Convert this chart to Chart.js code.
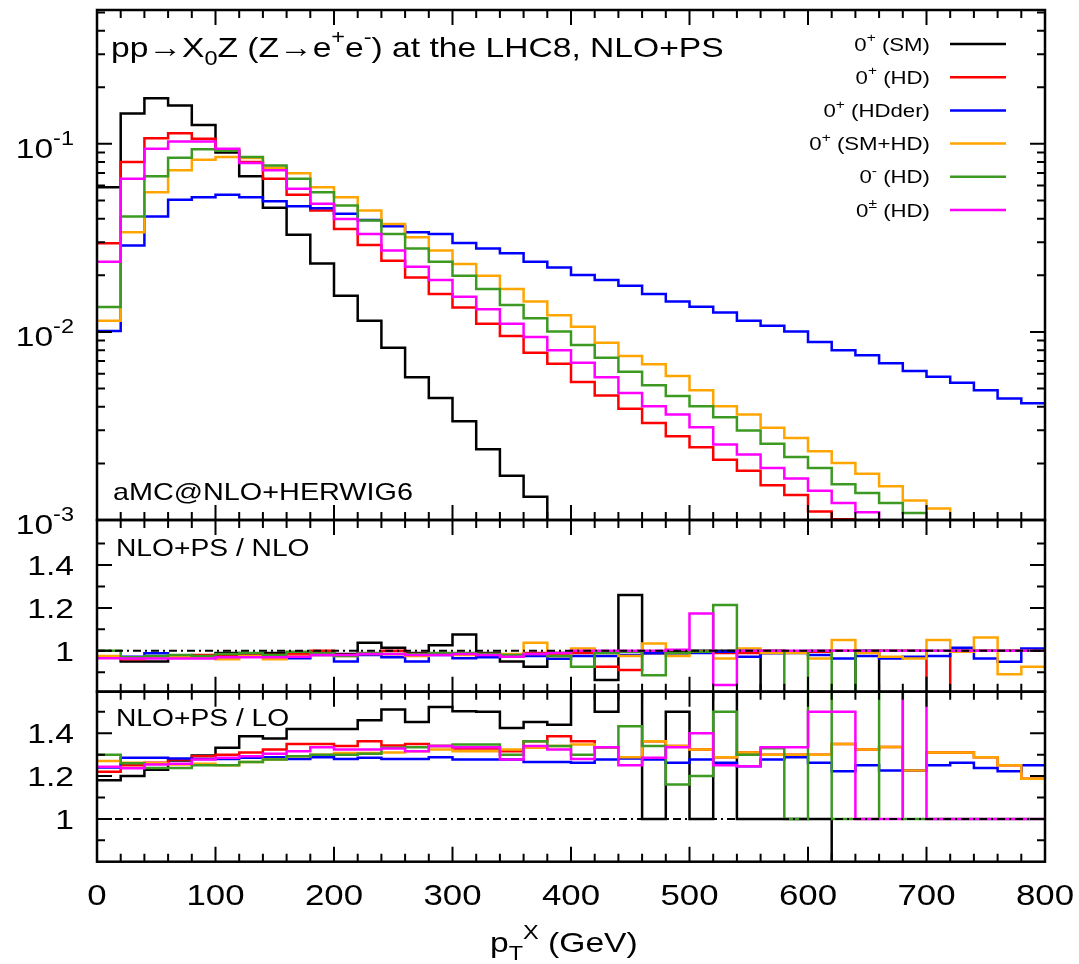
<!DOCTYPE html>
<html>
<head>
<meta charset="utf-8">
<script src="https://cdn.jsdelivr.net/npm/chart.js@4.4.1/dist/chart.umd.min.js"></script>
<style>
  body { margin: 0; background: #fff; }
  #wrap { position: relative; width: 1079px; height: 964px; }
  canvas { position: absolute; left: 0; top: 0; }
</style>
</head>
<body>
<div id="wrap">
  <canvas id="cMain" width="1079" height="964"></canvas>
  <canvas id="cNlo" width="1079" height="964"></canvas>
  <canvas id="cLo" width="1079" height="964"></canvas>
</div>
<script>
// bin low edges of pT^X (GeV), 20 GeV bins
const ptBins = [0, 20, 40, 60, 80, 100, 120, 140, 160, 180, 200, 220, 240, 260, 280, 300, 320, 340, 360, 380,
  400, 420, 440, 460, 480, 500, 520, 540, 560, 580, 600, 620, 640, 660, 680, 700, 720, 740, 760, 780];
const ptMax = 800;

const seriesLabels = ['0^{+} (SM)', '0^{+} (HD)', '0^{+} (HDder)', '0^{+} (SM+HD)', '0^{-} (HD)', '0^{±} (HD)'];
const seriesColors = ['#000000', '#ff0000', '#0000ff', '#ffa500', '#3c9a22', '#ff00ff'];

// main panel: normalised distribution (log)
const smMain = [0.0588, 0.145, 0.175, 0.160, 0.126, 0.090, 0.0673, 0.0457, 0.0329, 0.0231, 0.01556, 0.01146, 0.00825, 0.00575, 0.00445, 0.00335, 0.00238, 0.00172, 0.00133, 0.0008,
  0.0006, 0.0005, 0.0005, 0.0004, 0.0004, 0.0003, 0.0003, 0.0003, 0.0002, 0.0002, 0.0002, 0.0002, 0.0002, 0.0002, 0.0002, 0.0002, 0.0002, 0.0002, 0.0002, 0.0002];
const hdMain = [0.0296, 0.080, 0.107, 0.114, 0.1066, 0.093, 0.080, 0.0652, 0.0536, 0.0442, 0.0353, 0.0290, 0.0239, 0.0195, 0.0159, 0.0135, 0.01107, 0.00952, 0.00776, 0.00678,
  0.00541, 0.00459, 0.00390, 0.00328, 0.00279, 0.00244, 0.00209, 0.00183, 0.00153, 0.00136, 0.00111, 0.00101, 0.0008, 0.0007, 0.0006, 0.0005, 0.0005, 0.0004, 0.0004, 0.0003];
const hdderMain = [0.01012, 0.0288, 0.0411, 0.0504, 0.0520, 0.0536, 0.0520, 0.0496, 0.0466, 0.0455, 0.0425, 0.0394, 0.0365, 0.0339, 0.0332, 0.0297, 0.0278, 0.0262, 0.0236, 0.0220,
  0.0201, 0.0189, 0.0176, 0.0159, 0.0145, 0.0136, 0.01267, 0.01146, 0.01077, 0.01004, 0.00885, 0.00799, 0.00751, 0.00681, 0.00619, 0.00578, 0.00537, 0.00489, 0.00443, 0.00417];
const smhdMain = [0.01146, 0.0339, 0.0553, 0.0723, 0.0824, 0.0851, 0.0840, 0.0746, 0.0698, 0.0588, 0.0520, 0.0442, 0.0375, 0.0319, 0.0271, 0.0230, 0.0199, 0.0169, 0.0145, 0.01228,
  0.01067, 0.00877, 0.00745, 0.00673, 0.00583, 0.00489, 0.00403, 0.00364, 0.00309, 0.00273, 0.00232, 0.00201, 0.00176, 0.00151, 0.00127, 0.00115, 0.00099, 0.0006, 0.0005, 0.0004];
const psMain = [0.01358, 0.0411, 0.0673, 0.0844, 0.0935, 0.092, 0.0851, 0.0768, 0.0652, 0.0553, 0.0470, 0.0391, 0.0332, 0.0278, 0.0236, 0.0199, 0.0169, 0.0139, 0.01183, 0.01004,
  0.00853, 0.00730, 0.00614, 0.00521, 0.00456, 0.00403, 0.00352, 0.00299, 0.00254, 0.00216, 0.00189, 0.00155, 0.00139, 0.00123, 0.00109, 0.0008, 0.0006, 0.0005, 0.0004, 0.0003];
const mixMain = [0.0236, 0.0652, 0.0942, 0.103, 0.103, 0.0942, 0.079, 0.0723, 0.0577, 0.048, 0.0399, 0.0332, 0.0271, 0.0222, 0.0189, 0.0154, 0.0132, 0.01107, 0.0094, 0.00798,
  0.00686, 0.00575, 0.00474, 0.00403, 0.00364, 0.00311, 0.00252, 0.00223, 0.00189, 0.00166, 0.00143, 0.00123, 0.0011, 0.00099, 0.0006, 0.0005, 0.0004, 0.0004, 0.0003, 0.0003];

// middle panel: NLO+PS / NLO
const smNlo = [0.97, 0.95, 0.95, 0.975, 0.975, 0.99, 0.985, 0.99, 0.99, 0.99, 0.985, 1.037, 1.014, 0.99, 1.026, 1.076, 0.99, 0.95, 0.925, 0.99,
  0.995, 0.863, 1.26, 0.99, 0.995, 1.0, 1.0, 1.0, 0, 0, 0, 0, 1.0, 0, 0, 0, 0, 0, 0, 0];
const hdNlo = [0.97, 0.96, 0.97, 0.975, 0.98, 0.975, 0.98, 0.98, 0.985, 1.0, 0.98, 0.985, 1.0, 0.985, 0.985, 0.985, 0.975, 0.98, 0.99, 0.985,
  0.99, 0.925, 0.91, 0.99, 0.99, 0.995, 0.99, 0.99, 1.0, 0.995, 0.995, 1.0, 0.995, 1.0, 1.0, 0, 1.0, 1.0, 1.0, 1.0];
const hdderNlo = [0.97, 0.972, 0.988, 0.972, 0.97, 0.97, 0.975, 0.975, 0.965, 0.98, 0.95, 0.98, 0.97, 0.95, 0.98, 0.965, 0.97, 0.975, 0.975, 0.963,
  0.975, 0.975, 0.98, 0.988, 0.988, 0.99, 0.995, 0.972, 0.988, 0.99, 0.98, 0.964, 0.975, 0.964, 0.972, 0.975, 1.014, 0.964, 0.949, 1.01];
const smhdNlo = [0.975, 0.965, 0.97, 0.97, 0.97, 0.96, 0.975, 0.96, 0.975, 0.98, 0.975, 0.985, 0.985, 0.975, 0.985, 0.98, 0.985, 0.985, 1.037, 0.975,
  1.011, 0.99, 0.975, 1.034, 0.975, 0.995, 0.964, 1.011, 0.99, 0.99, 0.964, 1.05, 0.99, 0.972, 0.964, 1.05, 0.995, 1.062, 0.89, 0.925];
const psNlo = [1.0, 0.97, 0.975, 0.98, 0.975, 0.985, 0.99, 0.98, 0.995, 0.99, 0.975, 0.99, 0.985, 0.985, 0.99, 0.99, 0.985, 0.98, 0.985, 0.975,
  0.925, 0.99, 0.995, 0.886, 0.99, 0.995, 1.213, 1.0, 1.0, 0, 1.0, 0, 1.0, 1.0, 1.0, 1.0, 1.0, 1.0, 1.0, 1.0];
const mixNlo = [0.965, 0.964, 0.964, 0.964, 0.964, 0.97, 0.97, 0.97, 0.972, 0.98, 0.98, 0.985, 0.985, 0.98, 0.98, 0.985, 0.98, 0.972, 0.985, 0.99,
  1.0, 1.0, 1.0, 1.0, 1.005, 1.174, 0.84, 1.0, 1.0, 1.0, 1.0, 1.0, 1.0, 1.0, 1.0, 1.0, 1.0, 1.0, 1.0, 1.0];

// bottom panel: NLO+PS / LO
const smLo = [1.18, 1.2, 1.23, 1.273, 1.296, 1.332, 1.386, 1.375, 1.42, 1.42, 1.42, 1.461, 1.511, 1.453, 1.523, 1.503, 1.5, 1.425, 1.453, 1.44,
  2.0, 1.5, 2.0, 1.0, 1.5, 1.0, 2.0, 1.0, 1.0, 1.0, 1.0, 0, 0, 0, 0, 0, 0, 0, 0, 0];
const hdLo = [1.22, 1.25, 1.262, 1.277, 1.293, 1.30, 1.31, 1.324, 1.35, 1.35, 1.34, 1.363, 1.343, 1.35, 1.34, 1.329, 1.329, 1.316, 1.363, 1.386,
  1.363, 1.335, 1.288, 1.363, 1.34, 1.324, 1.288, 1.31, 1.30, 1.30, 1.30, 1.35, 1.324, 1.336, 1.226, 1.31, 1.31, 1.288, 1.25, 1.188];
const hdderLo = [1.24, 1.285, 1.285, 1.282, 1.28, 1.28, 1.285, 1.288, 1.28, 1.288, 1.28, 1.285, 1.28, 1.28, 1.288, 1.277, 1.277, 1.277, 1.266, 1.266,
  1.262, 1.277, 1.282, 1.277, 1.262, 1.277, 1.262, 1.246, 1.277, 1.288, 1.262, 1.223, 1.25, 1.226, 1.226, 1.25, 1.262, 1.238, 1.223, 1.25];
const smhdLo = [1.27, 1.262, 1.26, 1.254, 1.257, 1.25, 1.266, 1.277, 1.293, 1.30, 1.308, 1.308, 1.31, 1.316, 1.324, 1.316, 1.316, 1.324, 1.332, 1.34,
  1.347, 1.335, 1.288, 1.363, 1.34, 1.324, 1.288, 1.31, 1.30, 1.30, 1.30, 1.35, 1.324, 1.336, 1.226, 1.31, 1.31, 1.288, 1.25, 1.188];
const psLo = [1.30, 1.26, 1.238, 1.238, 1.25, 1.25, 1.266, 1.277, 1.293, 1.30, 1.30, 1.304, 1.332, 1.335, 1.34, 1.347, 1.347, 1.30, 1.363, 1.34,
  1.30, 1.335, 1.433, 1.34, 1.16, 1.2, 1.5, 1.30, 1.33, 1.0, 2.0, 1.0, 1.0, 2.0, 1.0, 1.0, 1.0, 1.0, 1.0, 1.0];
const mixLo = [1.244, 1.237, 1.254, 1.257, 1.277, 1.285, 1.293, 1.304, 1.316, 1.335, 1.324, 1.324, 1.329, 1.316, 1.34, 1.335, 1.335, 1.277, 1.34, 1.324,
  1.28, 1.335, 1.25, 1.285, 1.335, 1.4, 1.25, 1.246, 1.335, 1.335, 1.5, 1.5, 1.0, 1.0, 2.0, 1.0, 1.0, 1.0, 1.0, 1.0];

// tick labels
const xTickValues = [0, 100, 200, 300, 400, 500, 600, 700, 800];
const xTickLabels = ['0', '100', '200', '300', '400', '500', '600', '700', '800'];
const mainTickValues = [0.001, 0.01, 0.1];
const mainTickLabels = ['10^{-3}', '10^{-2}', '10^{-1}'];
const ratioTickValues = [1.0, 1.2, 1.4];
const ratioTickLabels = ['1', '1.2', '1.4'];

const FONT = '"Liberation Sans", Arial, Helvetica, sans-serif';
const SX = 1.2; // the original lettering is a little stretched sideways

function parseRich(str) {
  const parts = [];
  const re = /([\^_])\{([^}]*)\}|([^\^_]+)/g;
  let m;
  while ((m = re.exec(str))) {
    if (m[3]) parts.push({ t: m[3] });
    else parts.push({ t: m[2], sup: m[1] === '^', sub: m[1] === '_' });
  }
  return parts;
}

function drawRich(ctx, str, x, y, size, align) {
  const parts = parseRich(str);
  let w = 0;
  parts.forEach(p => {
    ctx.font = (p.sup || p.sub ? size * 0.7 : size) + 'px ' + FONT;
    w += ctx.measureText(p.t).width;
  });
  w *= SX;
  const x0 = align === 'right' ? x - w : align === 'center' ? x - w / 2 : x;
  ctx.save();
  ctx.translate(x0, y);
  ctx.scale(SX, 1);
  ctx.fillStyle = '#000';
  ctx.textBaseline = 'alphabetic';
  ctx.textAlign = 'left';
  let px = 0;
  parts.forEach(p => {
    ctx.font = (p.sup || p.sub ? size * 0.7 : size) + 'px ' + FONT;
    const dy = p.sup ? -size * 0.45 : p.sub ? size * 0.28 : 0;
    ctx.fillText(p.t, px, dy);
    px += ctx.measureText(p.t).width;
  });
  ctx.restore();
}

function logMinors(min, max) {
  const out = [];
  for (let d = min; d < max; d *= 10) {
    for (let k = 2; k <= 9; k++) if (k * d < max) out.push(k * d);
  }
  return out;
}

const framePlugin = {
  id: 'frame',
  afterDraw(chart, args, o) {
    const ctx = chart.ctx;
    const a = chart.chartArea;
    const xs = chart.scales.x, ys = chart.scales.y;
    ctx.save();
    ctx.strokeStyle = '#000';
    ctx.lineWidth = 2;
    ctx.beginPath();
    for (let v = 20; v < ptMax; v += 20) {
      const px = xs.getPixelForValue(v);
      const len = v % 100 === 0 ? 15 : 8;
      ctx.moveTo(px, a.bottom); ctx.lineTo(px, a.bottom - len);
      ctx.moveTo(px, a.top); ctx.lineTo(px, a.top + len);
    }
    const yTick = (v, len) => {
      const py = ys.getPixelForValue(v);
      if (py <= a.top + 1 || py >= a.bottom - 1) return;
      ctx.moveTo(a.left, py); ctx.lineTo(a.left + len, py);
      ctx.moveTo(a.right, py); ctx.lineTo(a.right - len, py);
    };
    o.yMajor.forEach(v => yTick(v, 15));
    o.yMinor.forEach(v => yTick(v, 8));
    ctx.stroke();
    ctx.lineWidth = 2.5;
    ctx.strokeRect(a.left, a.top, a.right - a.left, a.bottom - a.top);
    ctx.restore();

    o.yLabels.forEach((s, i) => {
      const py = ys.getPixelForValue(o.yMajor[i]);
      drawRich(ctx, s, 74, py + o.yLabelShift, 28, 'right');
    });
    if (o.xLabels) {
      xTickValues.forEach((v, i) => {
        drawRich(ctx, xTickLabels[i], xs.getPixelForValue(v), 905, 29, 'center');
      });
      drawRich(ctx, 'p_{T}^{X} (GeV)', 490, 952, 28, 'left');
    }
    (o.texts || []).forEach(t => drawRich(ctx, t.s, t.x, t.y, t.size, 'left'));
    if (o.legend) {
      chart.data.datasets.forEach((ds, i) => {
        if (!ds.label) return;
        const cy = 44 + i * 33.2;
        drawRich(ctx, ds.label, 930, cy + 6.5, 18.5, 'right');
        ctx.save();
        ctx.strokeStyle = ds.borderColor;
        ctx.lineWidth = 2.5;
        ctx.beginPath();
        ctx.moveTo(950, cy); ctx.lineTo(1006, cy);
        ctx.stroke();
        ctx.restore();
      });
    }
  }
};

function steps(vals) {
  const pts = ptBins.map((x, i) => ({ x: x, y: vals[i] }));
  pts.push({ x: ptMax, y: vals[vals.length - 1] });
  return pts;
}

function makeDatasets(list, withRef) {
  const sets = list.map((vals, i) => ({
    label: seriesLabels[i],
    data: steps(vals),
    borderColor: seriesColors[i],
    borderWidth: 2.5,
    stepped: 'before',
    pointRadius: 0,
    fill: false,
    order: 6 - i
  }));
  if (withRef) {
    sets.push({
      label: '',
      data: [{ x: 0, y: 1 }, { x: ptMax, y: 1 }],
      borderColor: '#000',
      borderWidth: 2,
      borderDash: [8, 4, 2, 4],
      pointRadius: 0,
      order: 0
    });
  }
  return sets;
}

function makeChart(id, top, bottom, yScale, datasets, frame) {
  return new Chart(document.getElementById(id), {
    type: 'line',
    data: { datasets: datasets },
    options: {
      responsive: false,
      animation: false,
      devicePixelRatio: 1,
      events: [],
      layout: { padding: { left: 97, right: 34, top: top, bottom: 964 - bottom } },
      scales: {
        x: { type: 'linear', min: 0, max: ptMax, display: false },
        y: Object.assign({ display: false }, yScale)
      },
      plugins: { legend: { display: false }, tooltip: { enabled: false }, frame: frame }
    },
    plugins: [framePlugin]
  });
}

makeChart('cMain', 10, 520, { type: 'logarithmic', min: 0.001, max: 0.515 },
  makeDatasets([smMain, hdMain, hdderMain, smhdMain, psMain, mixMain], false),
  {
    yMajor: mainTickValues, yMinor: logMinors(0.001, 0.515), yLabels: mainTickLabels, yLabelShift: 14,
    legend: true,
    texts: [
      { s: 'pp→X_{0}Z (Z→e^{+}e^{-}) at the LHC8, NLO+PS', x: 111, y: 57, size: 28 },
      { s: 'aMC@NLO+HERWIG6', x: 113, y: 500, size: 24 }
    ]
  });

const nloSets = makeDatasets([smNlo, hdNlo, hdderNlo, smhdNlo, psNlo, mixNlo], true);
nloSets.forEach(d => { d.label = ''; });
makeChart('cNlo', 520, 691.7, { type: 'linear', min: 0.809, max: 1.61 }, nloSets,
  {
    yMajor: ratioTickValues, yMinor: [0.9, 1.1, 1.3, 1.5], yLabels: ratioTickLabels, yLabelShift: 10,
    texts: [{ s: 'NLO+PS / NLO', x: 116, y: 556, size: 23.5 }]
  });

const loSets = makeDatasets([smLo, hdLo, hdderLo, smhdLo, psLo, mixLo], true);
loSets.forEach(d => { d.label = ''; });
makeChart('cLo', 691.7, 861.7, { type: 'linear', min: 0.80, max: 1.594 }, loSets,
  {
    yMajor: ratioTickValues, yMinor: [0.9, 1.1, 1.3, 1.5], yLabels: ratioTickLabels, yLabelShift: 10,
    xLabels: true,
    texts: [{ s: 'NLO+PS / LO', x: 116, y: 726, size: 23.5 }]
  });
</script>
</body>
</html>
